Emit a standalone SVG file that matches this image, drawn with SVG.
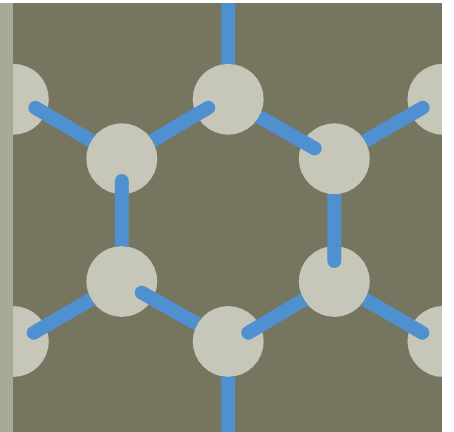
<svg xmlns="http://www.w3.org/2000/svg" width="454" height="432" viewBox="0 0 454 432">
  <style>
    .atom { fill: #c6c7b9; }
    .bond { fill: none; stroke: #4f90d0; stroke-width: 14; stroke-linecap: round; }
  </style>
  <defs>
    <clipPath id="view"><rect x="13" y="3" width="429" height="429"/></clipPath>
    <clipPath id="off-a"><path clip-rule="evenodd" d="M0 0H454V432H0Z M86.3 158.7a35.5 35.5 0 1 0 71 0a35.5 35.5 0 1 0 -71 0Z"/></clipPath>
    <clipPath id="off-b"><path clip-rule="evenodd" d="M0 0H454V432H0Z M192.7 99.2a35.5 35.5 0 1 0 71 0a35.5 35.5 0 1 0 -71 0Z"/></clipPath>
    <clipPath id="off-c"><path clip-rule="evenodd" d="M0 0H454V432H0Z M298.8 158.7a35.5 35.5 0 1 0 71 0a35.5 35.5 0 1 0 -71 0Z"/></clipPath>
    <clipPath id="off-d"><path clip-rule="evenodd" d="M0 0H454V432H0Z M86.3 281.5a35.5 35.5 0 1 0 71 0a35.5 35.5 0 1 0 -71 0Z"/></clipPath>
    <clipPath id="off-e"><path clip-rule="evenodd" d="M0 0H454V432H0Z M192.7 341.5a35.5 35.5 0 1 0 71 0a35.5 35.5 0 1 0 -71 0Z"/></clipPath>
    <clipPath id="off-f"><path clip-rule="evenodd" d="M0 0H454V432H0Z M298.8 281.5a35.5 35.5 0 1 0 71 0a35.5 35.5 0 1 0 -71 0Z"/></clipPath>
  </defs>
  <rect x="0" y="3" width="13" height="429" fill="#a9a998"/>
  <rect x="13" y="3" width="429" height="429" fill="#767560"/>
  <g clip-path="url(#view)">
    <g id="node-top-left"><circle class="atom" cx="13.3" cy="99.2" r="35.5"/></g>
    <g id="node-top-right"><circle class="atom" cx="443" cy="99.2" r="35.5"/></g>
    <g id="node-bottom-left"><circle class="atom" cx="13.3" cy="341.5" r="35.5"/></g>
    <g id="node-bottom-right"><circle class="atom" cx="443" cy="341.5" r="35.5"/></g>
    <g id="node-a"><circle class="atom" cx="121.8" cy="158.7" r="35.5"/></g>
    <g id="node-b"><circle class="atom" cx="228.2" cy="99.2" r="35.5"/></g>
    <g id="node-c"><circle class="atom" cx="334.3" cy="158.7" r="35.5"/></g>
    <g id="node-d"><circle class="atom" cx="121.8" cy="281.5" r="35.5"/></g>
    <g id="node-e"><circle class="atom" cx="228.2" cy="341.5" r="35.5"/></g>
    <g id="node-f"><circle class="atom" cx="334.3" cy="281.5" r="35.5"/></g>
    <g id="connectors">
      <path class="bond" clip-path="url(#off-a)" d="M35.3 107.7L121.8 158.7"/>
      <path class="bond" clip-path="url(#off-a)" d="M208.3 107.7L121.8 158.7"/>
      <path class="bond" clip-path="url(#off-d)" d="M121.8 181L121.8 281.5"/>
      <path class="bond" clip-path="url(#off-b)" d="M314.7 148.3L228.2 99.2"/>
      <path class="bond" clip-path="url(#off-b)" d="M228.2 -10L228.2 99.2" style="stroke-linecap:butt"/>
      <path class="bond" clip-path="url(#off-c)" d="M422.7 107.7L334.3 158.7"/>
      <path class="bond" clip-path="url(#off-c)" d="M334.3 261L334.3 158.7"/>
      <path class="bond" clip-path="url(#off-d)" d="M33.7 332.7L121.8 281.5"/>
      <path class="bond" clip-path="url(#off-e)" d="M141.7 292.7L228.2 341.5"/>
      <path class="bond" clip-path="url(#off-e)" d="M228.2 442L228.2 341.5" style="stroke-linecap:butt"/>
      <path class="bond" clip-path="url(#off-f)" d="M248.3 332.7L334.3 281.5"/>
      <path class="bond" clip-path="url(#off-f)" d="M422.3 332.7L334.3 281.5"/>
    </g>
  </g>
</svg>
